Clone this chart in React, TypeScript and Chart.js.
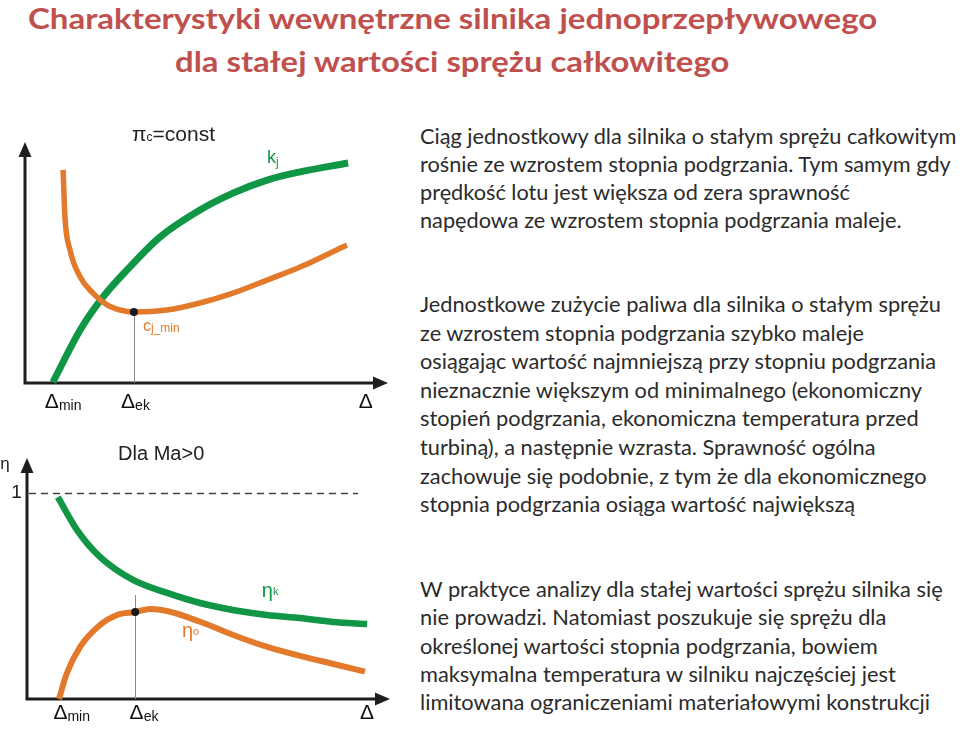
import React, { useEffect, useRef } from "react";
import { Chart, registerables } from "chart.js";
Chart.register(...registerables);

// ---------- texts ----------
const TITLE_LINES = [
  "Charakterystyki wewnętrzne silnika jednoprzepływowego",
  "dla stałej wartości sprężu całkowitego",
];
const PARA1 = [
  "Ciąg jednostkowy dla silnika o stałym sprężu całkowitym",
  "rośnie ze wzrostem stopnia podgrzania. Tym samym gdy",
  "prędkość lotu jest większa od zera sprawność",
  "napędowa ze wzrostem stopnia podgrzania maleje.",
];
const PARA2 = [
  "Jednostkowe zużycie paliwa dla silnika o stałym sprężu",
  "ze wzrostem stopnia podgrzania szybko maleje",
  "osiągając wartość najmniejszą przy stopniu podgrzania",
  "nieznacznie większym od minimalnego (ekonomiczny",
  "stopień podgrzania, ekonomiczna temperatura przed",
  "turbiną), a następnie wzrasta. Sprawność ogólna",
  "zachowuje się podobnie, z tym że dla ekonomicznego",
  "stopnia podgrzania osiąga wartość największą",
];
const PARA3 = [
  "W praktyce analizy dla stałej wartości sprężu silnika się",
  "nie prowadzi. Natomiast poszukuje się sprężu dla",
  "określonej wartości stopnia podgrzania, bowiem",
  "maksymalna temperatura w silniku najczęściej jest",
  "limitowana ograniczeniami materiałowymi konstrukcji",
];

// ---------- top chart data (Δ on x, arbitrary units) ----------
const KJ_X = [7.7, 15.2, 21.5, 28.1, 37.2, 48.2, 57.3, 66.7, 75.8, 89];
const KJ_Y = [0.4, 22, 35.7, 46.9, 60.6, 71.8, 78.8, 84.2, 87.6, 91.3];
const CJ_X = [10.5, 11, 12.4, 15.2, 18.7, 22.6, 26.2, 30, 39.1, 48.2, 57.3, 66.7, 75.8, 88.7];
const CJ_Y = [88.4, 68.9, 55.2, 44, 37.3, 32.4, 30.3, 29.5, 30.3, 33.2, 37.3, 42.7, 48.1, 57.3];
const TOP_DELTA_EK = 30;
const TOP_CJ_MIN = 29.5;
const TOP_TICK_LABEL_X = [7.4, 28.4, 93.9];
const TICK_SUBS = ["min", "ek", ""];

// ---------- bottom chart data (η on y) ----------
const ETAK_X = [8.5, 13.8, 20.1, 29.2, 38.6, 47.7, 56.7, 66.1, 75.2, 84.3, 93.7];
const ETAK_Y = [0.98, 0.82, 0.69, 0.578, 0.515, 0.466, 0.432, 0.408, 0.393, 0.374, 0.364];
const ETAO_X = [8.8, 11, 14.6, 20.1, 24.8, 29.8, 33.9, 38.6, 47.7, 56.8, 66.0, 75.2, 84.4, 93.1];
const ETAO_Y = [0, 0.126, 0.252, 0.359, 0.408, 0.422, 0.437, 0.427, 0.375, 0.311, 0.254, 0.209, 0.17, 0.133];
const BOT_DELTA_EK = 29.8;
const BOT_ETA_EK = 0.422;
const BOT_EK_LINE_TOP = 0.505;
const ETA_ONE = 1;
const ETA_ONE_END_X = 91.2;
const BOT_TICK_LABEL_X = [9.2, 30.2, 93.7];

const GREEN = "#119646";
const ORANGE = "#e2792b";
const AXIS = "#1e1e1e";
const ARIAL = '"Liberation Sans", Arial, sans-serif';
const BODY_FONT = 'Lato, "Noto Sans", sans-serif';

function pts(xs: number[], ys: number[]) {
  return xs.map((x, i) => ({ x, y: ys[i] }));
}

function drawSub(
  ctx: CanvasRenderingContext2D,
  x: number,
  y: number,
  main: string,
  sub: string,
  mainSize: number,
  subSize: number,
  color: string,
  subDy: number,
  align: "left" | "center" = "left"
) {
  ctx.save();
  ctx.fillStyle = color;
  ctx.textBaseline = "alphabetic";
  ctx.textAlign = "left";
  ctx.font = `${mainSize}px ${ARIAL}`;
  const wm = ctx.measureText(main).width;
  let sx = x;
  if (align === "center") sx = x - wm / 2;
  ctx.fillText(main, sx, y);
  if (sub) {
    ctx.font = `${subSize}px ${ARIAL}`;
    ctx.fillText(sub, sx + wm, y + subDy);
  }
  ctx.restore();
}

function drawAxes(chart: any) {
  const { ctx, chartArea } = chart;
  const { left, right, top, bottom } = chartArea;
  ctx.save();
  ctx.strokeStyle = AXIS;
  ctx.fillStyle = AXIS;
  ctx.lineWidth = 3;
  ctx.beginPath();
  ctx.moveTo(left, bottom + 1.5);
  ctx.lineTo(left, top + 12);
  ctx.moveTo(left - 1.5, bottom);
  ctx.lineTo(right - 12, bottom);
  ctx.stroke();
  ctx.beginPath();
  ctx.moveTo(left, top);
  ctx.lineTo(left - 6.5, top + 15);
  ctx.lineTo(left + 6.5, top + 15);
  ctx.closePath();
  ctx.fill();
  ctx.beginPath();
  ctx.moveTo(right, bottom);
  ctx.lineTo(right - 15, bottom - 6.5);
  ctx.lineTo(right - 15, bottom + 6.5);
  ctx.closePath();
  ctx.fill();
  ctx.restore();
}

function drawDot(chart: any, x: number, y: number) {
  const { ctx, scales } = chart;
  ctx.save();
  ctx.fillStyle = "#1a1a1a";
  ctx.beginPath();
  ctx.arc(scales.x.getPixelForValue(x), scales.y.getPixelForValue(y), 4, 0, Math.PI * 2);
  ctx.fill();
  ctx.restore();
}

function drawVLine(chart: any, x: number, yTop: number) {
  const { ctx, scales, chartArea } = chart;
  const px = Math.round(scales.x.getPixelForValue(x)) + 0.5;
  ctx.save();
  ctx.strokeStyle = "#8a8a8a";
  ctx.lineWidth = 1;
  ctx.beginPath();
  ctx.moveTo(px, scales.y.getPixelForValue(yTop));
  ctx.lineTo(px, chartArea.bottom);
  ctx.stroke();
  ctx.restore();
}

function drawDeltaTicks(chart: any, xs: number[], baseY: number, subDy: number) {
  const { ctx, scales } = chart;
  xs.forEach((v, i) => {
    drawSub(ctx, scales.x.getPixelForValue(v), scales.y.getPixelForValue(baseY), "Δ", TICK_SUBS[i], 21, 14, "#111", subDy, "center");
  });
}

const topPlugin = {
  id: "topOverlay",
  beforeDatasetsDraw(chart: any) {
    drawAxes(chart);
    drawVLine(chart, TOP_DELTA_EK, TOP_CJ_MIN);
  },
  afterDatasetsDraw(chart: any) {
    const { ctx, scales } = chart;
    const X = (v: number) => scales.x.getPixelForValue(v);
    const Y = (v: number) => scales.y.getPixelForValue(v);
    drawDot(chart, TOP_DELTA_EK, TOP_CJ_MIN);
    // πc=const
    ctx.save();
    ctx.fillStyle = "#222";
    ctx.font = `21px ${ARIAL}`;
    let x0 = X(29.5);
    const y0 = Y(100.4);
    ctx.fillText("π", x0, y0);
    x0 += ctx.measureText("π").width;
    ctx.font = `12px ${ARIAL}`;
    ctx.fillText("c", x0, y0);
    x0 += ctx.measureText("c").width;
    ctx.font = `21px ${ARIAL}`;
    ctx.fillText("=const", x0, y0);
    ctx.restore();
    drawSub(ctx, X(66.7), Y(91.3), "k", "j", 18, 12, GREEN, 3);
    drawSub(ctx, X(32.5), Y(21.6), "c", "j_min", 16, 12, ORANGE, 1);
    drawDeltaTicks(chart, TOP_TICK_LABEL_X, -10.4, 2);
  },
};

const botPlugin = {
  id: "botOverlay",
  beforeDatasetsDraw(chart: any) {
    const { ctx, scales, chartArea } = chart;
    drawAxes(chart);
    // dashed η = 1
    ctx.save();
    ctx.strokeStyle = "#444";
    ctx.lineWidth = 1.5;
    ctx.setLineDash([7, 5]);
    const py = Math.round(scales.y.getPixelForValue(ETA_ONE)) + 0.5;
    ctx.beginPath();
    ctx.moveTo(chartArea.left + 2, py);
    ctx.lineTo(scales.x.getPixelForValue(ETA_ONE_END_X), py);
    ctx.stroke();
    ctx.restore();
    drawVLine(chart, BOT_DELTA_EK, BOT_EK_LINE_TOP);
  },
  afterDatasetsDraw(chart: any) {
    const { ctx, scales } = chart;
    const X = (v: number) => scales.x.getPixelForValue(v);
    const Y = (v: number) => scales.y.getPixelForValue(v);
    drawDot(chart, BOT_DELTA_EK, BOT_ETA_EK);
    ctx.save();
    ctx.fillStyle = "#222";
    ctx.font = `20px ${ARIAL}`;
    ctx.fillText("Dla Ma>0", X(25.1), Y(1.16));
    ctx.font = `17px ${ARIAL}`;
    ctx.textAlign = "center";
    ctx.fillText("η", X(-6.1), Y(1.117));
    ctx.font = `19px ${ARIAL}`;
    ctx.textAlign = "right";
    ctx.fillText("1", X(-1.4), Y(0.976));
    ctx.restore();
    drawSub(ctx, X(64.7), Y(0.495), "η", "k", 20, 11, GREEN, -2);
    drawSub(ctx, X(42.7), Y(0.301), "η", "o", 20, 11, ORANGE, -2);
    drawDeltaTicks(chart, BOT_TICK_LABEL_X, -0.097, 2);
  },
};

function makeChart(
  canvas: HTMLCanvasElement,
  datasets: any[],
  yMax: number,
  padding: any,
  plugin: any
) {
  return new Chart(canvas, {
    type: "line",
    data: { datasets },
    options: {
      animation: false,
      responsive: false,
      devicePixelRatio: 1,
      layout: { padding },
      plugins: { legend: { display: false }, tooltip: { enabled: false } },
      events: [],
      scales: {
        x: { type: "linear", min: 0, max: 100, display: false },
        y: { type: "linear", min: 0, max: yMax, display: false },
      },
    },
    plugins: [plugin],
  });
}

function lineDs(data: any[], color: string, width: number) {
  return {
    data,
    borderColor: color,
    borderWidth: width,
    pointRadius: 0,
    cubicInterpolationMode: "monotone",
    borderCapStyle: "butt",
    clip: false,
    fill: false,
  };
}

function TopChart() {
  const ref = useRef<HTMLCanvasElement>(null);
  useEffect(() => {
    const ch = makeChart(
      ref.current!,
      [lineDs(pts(CJ_X, CJ_Y), ORANGE, 5.5), lineDs(pts(KJ_X, KJ_Y), GREEN, 7)],
      100,
      { left: 25, right: 12, top: 22, bottom: 37 },
      topPlugin
    );
    return () => ch.destroy();
  }, []);
  return <canvas ref={ref} width={400} height={300} style={{ position: "absolute", left: 0, top: 120 }} />;
}

function BottomChart() {
  const ref = useRef<HTMLCanvasElement>(null);
  useEffect(() => {
    const ch = makeChart(
      ref.current!,
      [lineDs(pts(ETAO_X, ETAO_Y), ORANGE, 6), lineDs(pts(ETAK_X, ETAK_Y), GREEN, 6.5)],
      1.17,
      { left: 27, right: 10, top: 18, bottom: 31 },
      botPlugin
    );
    return () => ch.destroy();
  }, []);
  return <canvas ref={ref} width={400} height={290} style={{ position: "absolute", left: 0, top: 440 }} />;
}

function fitScale(lines: string[], font: string, target: number) {
  const c = document.createElement("canvas").getContext("2d")!;
  c.font = font;
  const w = Math.max(...lines.map((l) => c.measureText(l).width));
  return w > 0 ? target / w : 1;
}

function TextBlock(props: {
  lines: string[];
  left: number;
  top: number;
  target: number;
  size: number;
  lh: number;
  weight?: number;
  color: string;
}) {
  const { lines, left, top, target, size, lh, weight = 400, color } = props;
  const font = `${weight} ${size}px ${BODY_FONT}`;
  const s = fitScale(lines, font, target);
  return (
    <div
      style={{
        position: "absolute",
        left,
        top,
        font,
        lineHeight: `${lh}px`,
        color,
        whiteSpace: "nowrap",
        transform: `scaleX(${s})`,
        transformOrigin: "0 0",
      }}
    >
      {lines.map((l, i) => (
        <div key={i}>{l}</div>
      ))}
    </div>
  );
}

export default function App() {
  return (
    <div
      style={{
        position: "absolute",
        left: 0,
        top: 0,
        width: 960,
        height: 730,
        background: "#fff",
        overflow: "hidden",
      }}
    >
      <TextBlock lines={[TITLE_LINES[0]]} left={28} top={-4} target={850} size={29} lh={43} weight={700} color="#c0504d" />
      <TextBlock lines={[TITLE_LINES[1]]} left={175} top={39} target={555} size={29} lh={43} weight={700} color="#c0504d" />
      <TopChart />
      <BottomChart />
      <TextBlock lines={PARA1} left={420} top={122} target={537} size={21} lh={28} color="#2b2b2b" />
      <TextBlock lines={PARA2} left={420} top={290} target={521} size={21} lh={28.6} color="#2b2b2b" />
      <TextBlock lines={PARA3} left={420} top={575} target={524} size={21} lh={28.3} color="#2b2b2b" />
    </div>
  );
}
